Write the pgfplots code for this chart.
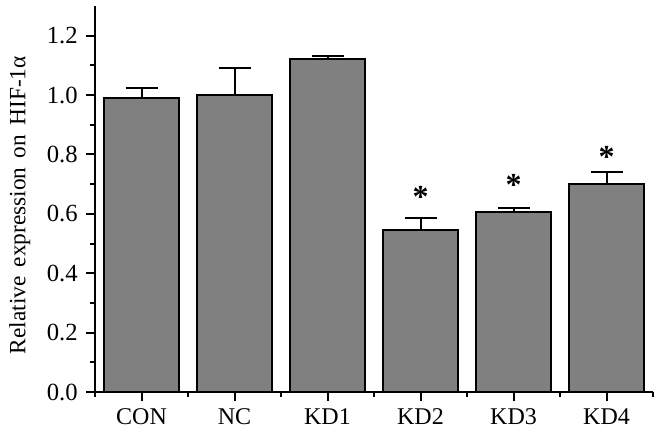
\documentclass[border=0pt]{standalone}
\usepackage{pgfplots}
\pgfplotsset{compat=1.18}
\usepackage{fontspec}
\setmainfont{Liberation Serif}
\definecolor{barfill}{RGB}{128,128,128}
\begin{document}
\begin{tikzpicture}
\begin{axis}[
  scale only axis,
  width=418.5pt, height=289.5pt,
  xmin=-0.5, xmax=5.5,
  ymin=0, ymax=1.3,
  axis x line=bottom, axis y line=left,
  axis line style={-, line width=1.5pt},
  tick align=outside,
  xtick={0,1,2,3,4,5},
  xticklabels={CON,NC,KD1,KD2,KD3,KD4},
  minor xtick={-0.5,0.5,1.5,2.5,3.5,4.5,5.5},
  ytick={0,0.2,0.4,0.6,0.8,1.0,1.2},
  minor ytick={0.1,0.3,0.5,0.7,0.9,1.1},
  yticklabel style={font=\fontsize{18.5}{22}\selectfont, xshift=-3pt, /pgf/number format/.cd, fixed, fixed zerofill, precision=1, assume math mode=true},
  /pgf/number format/assume math mode=true,
  major tick length=6.5pt, minor tick length=3.5pt,
  every tick/.style={black, line width=1.5pt},
  xticklabel style={font=\fontsize{18}{20}\selectfont, yshift=-2.5pt},
  ylabel={Relative\hspace{0.15em} expression\hspace{0.15em} on\hspace{0.15em} HIF-1α},
  ylabel style={font=\fontsize{17.5}{20}\selectfont, at={(axis description cs:-0.135,0.484)}, anchor=center},
  clip=false,
]
\addplot[ybar, bar width=0.8, fill=barfill, draw=black, line width=1.5pt,
  error bars/.cd, y dir=plus, y explicit,
  error bar style={line width=1.5pt},
  error mark options={rotate=90, mark size=12pt, line width=1.5pt}]
coordinates {
  (0,0.99) +- (0,0.035)
  (1,1.00) +- (0,0.092)
  (2,1.12) +- (0,0.010)
  (3,0.545) +- (0,0.040)
  (4,0.605) +- (0,0.013)
  (5,0.700) +- (0,0.040)
};
\addplot[draw=none, mark=none, nodes near coords={*},
  every node near coord/.style={anchor=center, font=\fontsize{24}{24}\selectfont\bfseries}]
coordinates {(3,0.656) (4,0.696) (5,0.79)};
\path (rel axis cs:1,1) ++(9.75pt,4.5pt);
\path (rel axis cs:0,0) ++(-71.25pt,-28.5pt);
\end{axis}
\end{tikzpicture}
\end{document}
